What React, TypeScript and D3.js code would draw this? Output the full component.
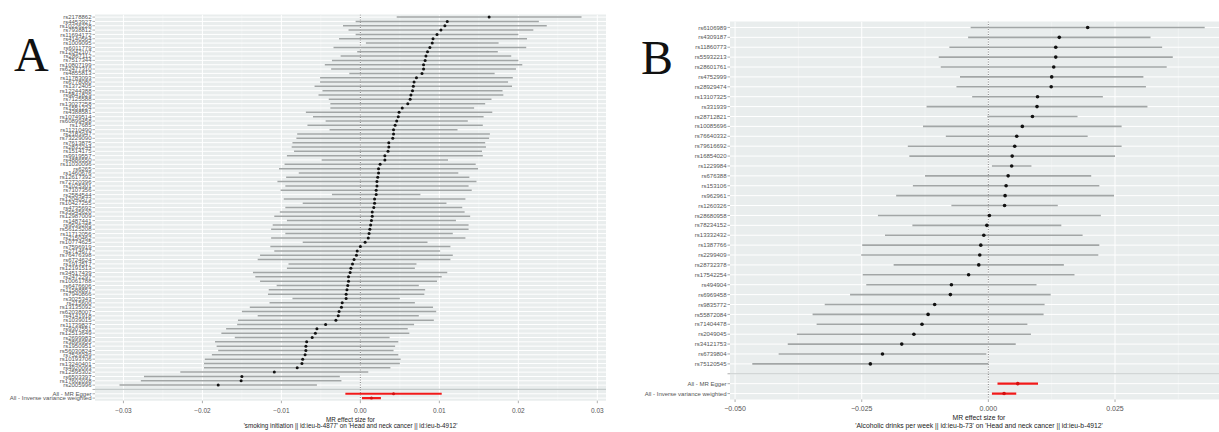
import React from "react";
import * as d3 from "d3";

// panel A: smoking initiation -> head and neck cancer
const snpsA = [
  "rs2178862", "rs4453927", "rs10226228", "rs7938812", "rs11694172", "rs4140564", "rs1009095", "rs6011779", "rs12042107", "rs2867112",
  "rs7517344", "rs10807199", "rs62477310", "rs4855813", "rs11783093", "rs6778080", "rs1372405", "rs12244388", "rs9841829", "rs7125588",
  "rs13027258", "rs1551224", "rs4388581", "rs10749514", "rs60899458", "rs17685", "rs11210490", "rs2183947", "rs73229090", "rs7613875",
  "rs2832244", "rs1514175", "rs9919557", "rs4886550", "rs11030096", "rs6265", "rs1460676", "rs12617392", "rs72720396", "rs1025301",
  "rs7107356", "rs2584544", "rs12040573", "rs10427255", "rs4735692", "rs35545620", "rs12987009", "rs1487441", "rs9536285", "rs56125208",
  "rs11712056", "rs2150462", "rs10774625", "rs7596919", "rs2714677", "rs76476398", "rs6724624", "rs1913517", "rs12191513", "rs34517439",
  "rs2472297", "rs10061788", "rs6476606", "rs11588857", "rs7940866", "rs3025343", "rs215600", "rs13135092", "rs62038007", "rs4141918",
  "rs1039015", "rs11739827", "rs9307551", "rs12513649", "rs2699983", "rs3896955", "rs1950951", "rs56030824", "rs7529349", "rs10193706",
  "rs13240401", "rs4920093", "rs12595302", "rs6503397", "rs17602038", "rs2005996",
];
const betaA = [
  0.0163, 0.0110, 0.0107, 0.0102, 0.0097, 0.0092, 0.0091, 0.0088, 0.0085, 0.0083,
  0.0082, 0.0080, 0.0080, 0.0078, 0.0071, 0.0068, 0.0067, 0.0066, 0.0064, 0.0063,
  0.0060, 0.0053, 0.0049, 0.0048, 0.0046, 0.0044, 0.0042, 0.0042, 0.0041, 0.0036,
  0.0036, 0.0035, 0.0031, 0.0031, 0.0025, 0.0023, 0.0023, 0.0022, 0.0021, 0.0021,
  0.0020, 0.0020, 0.0018, 0.0018, 0.0017, 0.0015, 0.0015, 0.0014, 0.0013, 0.0012,
  0.0011, 0.0010, 0.0006, 0.0000, -0.0004, -0.0005, -0.0008, -0.0010, -0.0012, -0.0013,
  -0.0015, -0.0015, -0.0016, -0.0017, -0.0018, -0.0018, -0.0023, -0.0024, -0.0027, -0.0028,
  -0.0031, -0.0044, -0.0055, -0.0057, -0.0061, -0.0068, -0.0069, -0.0069, -0.0070, -0.0073,
  -0.0074, -0.0080, -0.0109, -0.0150, -0.0151, -0.0180,
];
// half width of the 95% interval
const ciA = [
  0.0117, 0.0116, 0.0129, 0.0117, 0.0103, 0.0119, 0.0084, 0.0122, 0.0089, 0.0108,
  0.0118, 0.0125, 0.0117, 0.0092, 0.0122, 0.0119, 0.0125, 0.0114, 0.0117, 0.0103,
  0.0098, 0.0091, 0.0118, 0.0108, 0.0090, 0.0111, 0.0081, 0.0122, 0.0122, 0.0122,
  0.0123, 0.0119, 0.0124, 0.0080, 0.0121, 0.0126, 0.0101, 0.0116, 0.0126, 0.0116,
  0.0121, 0.0056, 0.0115, 0.0091, 0.0112, 0.0117, 0.0124, 0.0107, 0.0124, 0.0125,
  0.0106, 0.0123, 0.0079, 0.0114, 0.0105, 0.0122, 0.0122, 0.0081, 0.0081, 0.0123,
  0.0118, 0.0112, 0.0090, 0.0099, 0.0099, 0.0068, 0.0092, 0.0116, 0.0123, 0.0102,
  0.0124, 0.0112, 0.0115, 0.0119, 0.0098, 0.0116, 0.0113, 0.0111, 0.0118, 0.0124,
  0.0124, 0.0118, 0.0119, 0.0124, 0.0127, 0.0125,
];
const sumBetaA = [0.0042, 0.0014];
const sumCiA = [0.0061, 0.0012];

// panel B: alcoholic drinks per week -> head and neck cancer
const snpsB = [
  "rs6106989", "rs4309187", "rs11860773", "rs55932213", "rs28601761", "rs4752999", "rs28929474", "rs13107325", "rs331939",
  "rs28712821", "rs10085696", "rs76640332", "rs79616692", "rs16854020", "rs1229984", "rs676388", "rs153106", "rs962961",
  "rs1260326", "rs28680958", "rs78234152", "rs13332432", "rs1387766", "rs2299409", "rs28732378", "rs17542254", "rs494904",
  "rs6969458", "rs9835772", "rs55872084", "rs71404478", "rs2049045", "rs34121753", "rs6739804", "rs75120545",
];
const betaB = [
  0.0196, 0.0140, 0.0133, 0.0133, 0.0129, 0.0125, 0.0124, 0.0097, 0.0096, 0.0087,
  0.0067, 0.0056, 0.0052, 0.0047, 0.0046, 0.0039, 0.0035, 0.0033, 0.0032, 0.0002,
  -0.0003, -0.0009, -0.0015, -0.0017, -0.0019, -0.0039, -0.0073, -0.0075, -0.0106, -0.0119,
  -0.0131, -0.0147, -0.0171, -0.0209, -0.0233,
];
const ciB = [
  0.0231, 0.0180, 0.0210, 0.0231, 0.0223, 0.0181, 0.0187, 0.0129, 0.0218, 0.0089,
  0.0196, 0.0140, 0.0211, 0.0203, 0.0039, 0.0164, 0.0184, 0.0215, 0.0105, 0.0220,
  0.0147, 0.0195, 0.0234, 0.0234, 0.0168, 0.0209, 0.0168, 0.0198, 0.0217, 0.0228,
  0.0208, 0.0231, 0.0225, 0.0205, 0.0233,
];
const sumBetaB = [0.0058, 0.0031];
const sumCiB = [0.0040, 0.0024];

const sumLabels = ["All - MR Egger", "All - Inverse variance weighted"];

const ticksA = [-0.03, -0.02, -0.01, 0, 0.01, 0.02, 0.03];
const ticksB = [-0.05, -0.025, 0, 0.025];

const titleA = "'smoking initiation || id:ieu-b-4877' on 'Head and neck cancer || id:ieu-b-4912'";
const titleB = "'Alcoholic drinks per week || id:ieu-b-73' on 'Head and neck cancer || id:ieu-b-4912'";

const sans = "'Liberation Sans', Arial, sans-serif";

function Forest(props: any) {
  const { snps, beta, ci, sumBeta, sumCi, x0, x1, y0, y1, domain, ticks, fmt, title, tickY, titleY, tickFs, titleFs, r, lw, id } = props;
  const rows = [...snps, "", ...sumLabels];
  const x = d3.scaleLinear().domain(domain).range([x0, x1]);
  const y = d3.scalePoint<string>().domain(rows).range([y0, y1]).padding(0.6);
  const step = ticks[1] - ticks[0];
  const minor = ticks.map((t: number) => t - step / 2).concat([ticks[ticks.length - 1] + step / 2])
    .filter((t: number) => t > domain[0] && t < domain[1]);
  const cx = (x0 + x1) / 2;
  return (
    <g>
      <defs>
        <clipPath id={id}>
          <rect x={x0} y={y0} width={x1 - x0} height={y1 - y0} />
        </clipPath>
      </defs>
      <rect x={x0} y={y0} width={x1 - x0} height={y1 - y0} fill="#e9eded" />
      <g clipPath={`url(#${id})`}>
        {minor.map((t: number) => (
          <line key={"m" + t} x1={x(t)} x2={x(t)} y1={y0} y2={y1} stroke="#f7f9f9" strokeWidth={0.5} />
        ))}
        {ticks.map((t: number) => (
          <line key={"t" + t} x1={x(t)} x2={x(t)} y1={y0} y2={y1} stroke="#ffffff" strokeWidth={1} />
        ))}
        {rows.map((d) => (
          <line key={"h" + d} x1={x0} x2={x1} y1={y(d)} y2={y(d)} stroke="#ffffff" strokeWidth={1} />
        ))}
        <line x1={x0} x2={x1} y1={y("")} y2={y("")} stroke="#c4caca" strokeWidth={1.2} />
        <line x1={x(0)} x2={x(0)} y1={y0} y2={y1} stroke="#666" strokeWidth={0.8} strokeDasharray="1,1.5" />
        {snps.map((s: string, i: number) => (
          <g key={s}>
            <line x1={x(beta[i] - ci[i])} x2={x(beta[i] + ci[i])} y1={y(s)} y2={y(s)} stroke="#a2a6a6" strokeWidth={lw} />
            <circle cx={x(beta[i])} cy={y(s)} r={r} fill="#111" />
          </g>
        ))}
        {sumLabels.map((s, i) => (
          <g key={s}>
            <line x1={x(sumBeta[i] - sumCi[i])} x2={x(sumBeta[i] + sumCi[i])} y1={y(s)} y2={y(s)} stroke="#f21a1a" strokeWidth={lw + 0.7} />
            <circle cx={x(sumBeta[i])} cy={y(s)} r={r} fill="#d41010" />
          </g>
        ))}
      </g>
      {rows.map((d) => (
        <g key={"l" + d}>
          <line x1={x0 - 2.5} x2={x0} y1={y(d)} y2={y(d)} stroke="#777" strokeWidth={0.6} />
          <text x={x0 - 3.5} y={y(d)} dy="0.35em" textAnchor="end" fontSize={6} fill="#555" fontFamily={sans}>{d}</text>
        </g>
      ))}
      {ticks.map((t: number) => (
        <g key={"x" + t}>
          <line x1={x(t)} x2={x(t)} y1={y1} y2={y1 + 2.5} stroke="#777" strokeWidth={0.6} />
          <text x={x(t)} y={tickY} textAnchor="middle" fontSize={tickFs} fill="#555" fontFamily={sans}>{fmt(t)}</text>
        </g>
      ))}
      <text x={cx} y={titleY[0]} textAnchor="middle" fontSize={titleFs} fill="#222" fontFamily={sans}>MR effect size for</text>
      <text x={cx} y={titleY[1]} textAnchor="middle" fontSize={titleFs} fill="#222" fontFamily={sans}>{title}</text>
    </g>
  );
}

export default function App() {
  return (
    <svg width={1219} height={432} style={{ position: "absolute", left: 0, top: 0, background: "#fff" }}>
      <text x={14} y={71} fontSize={48} fontFamily="'Liberation Serif', 'Times New Roman', serif" fill="#111">A</text>
      <text x={641} y={74} fontSize={48} fontFamily="'Liberation Serif', 'Times New Roman', serif" fill="#111">B</text>
      <Forest
        id="clipA"
        snps={snpsA} beta={betaA} ci={ciA} sumBeta={sumBetaA} sumCi={sumCiA}
        x0={95} x1={606} y0={14.5} y1={400.7}
        domain={[-0.0336, 0.0311]} ticks={ticksA} fmt={d3.format(".2f")}
        title={titleA} tickY={412.5} titleY={[421.5, 428]} tickFs={6.5} titleFs={6.3}
        r={1.5} lw={1.5}
      />
      <Forest
        id="clipB"
        snps={snpsB} beta={betaB} ci={ciB} sumBeta={sumBetaB} sumCi={sumCiB}
        x0={730} x1={1228} y0={21.5} y1={399.5}
        domain={[-0.051, 0.0473]} ticks={ticksB} fmt={d3.format(".3f")}
        title={titleB} tickY={410.5} titleY={[420, 428]} tickFs={7} titleFs={6.8}
        r={1.8} lw={1.6}
      />
    </svg>
  );
}
